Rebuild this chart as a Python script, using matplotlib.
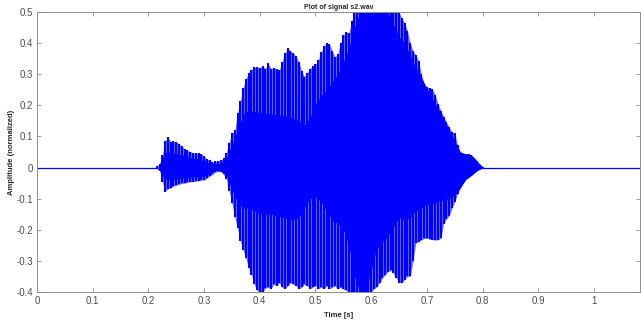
import matplotlib
matplotlib.use("Agg")
import matplotlib.pyplot as plt
import numpy as np

# signal length (s) and the silent stretches before/after the word
duration = 1.0826
silence_a = [0.0, 0.215]
silence_b = [0.800, duration]

# per-period peak amplitudes (one value every 5 ms, 0.215 .. 0.800 s)
t_peak = np.round(np.arange(0.215, 0.8001, 0.005), 3)
upper_peak = [
    0.006, 0.012, 0.040, 0.085, 0.099, 0.083, 0.084, 0.083, 0.076, 0.068,
    0.060, 0.055, 0.051, 0.048, 0.046, 0.046, 0.044, 0.036, 0.028, 0.024,
    0.018, 0.020, 0.021, 0.023, 0.030, 0.048, 0.080, 0.110, 0.121, 0.175,
    0.215, 0.255, 0.285, 0.305, 0.315, 0.322, 0.324, 0.320, 0.326, 0.318,
    0.335, 0.318, 0.320, 0.318, 0.312, 0.340, 0.367, 0.383, 0.375, 0.368,
    0.357, 0.340, 0.310, 0.292, 0.305, 0.318, 0.326, 0.332, 0.346, 0.370,
    0.390, 0.400, 0.398, 0.375, 0.355, 0.365, 0.400, 0.425, 0.437, 0.432,
    0.470, 0.500, 0.500, 0.500, 0.500, 0.500, 0.500, 0.500, 0.500, 0.500,
    0.500, 0.500, 0.500, 0.500, 0.500, 0.500, 0.500, 0.500, 0.480, 0.465,
    0.440, 0.400, 0.375, 0.362, 0.341, 0.300, 0.268, 0.258, 0.256, 0.252,
    0.232, 0.205, 0.182, 0.163, 0.145, 0.130, 0.115, 0.110, 0.072, 0.050,
    0.045, 0.044, 0.043, 0.040, 0.032, 0.022, 0.008, 0.003,
]
lower_peak = [
    -0.004, -0.010, -0.045, -0.077, -0.068, -0.066, -0.060, -0.057, -0.054, -0.051,
    -0.050, -0.048, -0.046, -0.045, -0.044, -0.043, -0.041, -0.040, -0.035, -0.028,
    -0.022, -0.015, -0.012, -0.013, -0.022, -0.038, -0.075, -0.115, -0.158, -0.195,
    -0.235, -0.265, -0.292, -0.322, -0.345, -0.375, -0.395, -0.400, -0.400, -0.388,
    -0.385, -0.390, -0.375, -0.380, -0.370, -0.385, -0.390, -0.380, -0.370, -0.375,
    -0.380, -0.390, -0.385, -0.375, -0.380, -0.390, -0.385, -0.380, -0.390, -0.385,
    -0.390, -0.380, -0.390, -0.385, -0.380, -0.390, -0.385, -0.390, -0.395, -0.400,
    -0.400, -0.400, -0.400, -0.400, -0.400, -0.400, -0.400, -0.400, -0.390, -0.383,
    -0.370, -0.355, -0.345, -0.335, -0.330, -0.340, -0.355, -0.370, -0.370, -0.360,
    -0.350, -0.350, -0.300, -0.243, -0.238, -0.233, -0.228, -0.228, -0.230, -0.232,
    -0.233, -0.232, -0.227, -0.180, -0.165, -0.155, -0.131, -0.110, -0.085, -0.065,
    -0.048, -0.038, -0.031, -0.025, -0.017, -0.010, -0.003, -0.002,
]

# solid part of the waveform (every 10 ms, 0.22 .. 0.80 s)
t_core = np.round(np.arange(0.22, 0.8001, 0.01), 2)
upper_core = [
    0.010, 0.050, 0.050, 0.045, 0.040, 0.035, 0.030, 0.028, 0.022, 0.015,
    0.012, 0.014, 0.030, 0.075, 0.120, 0.170, 0.185, 0.180, 0.178, 0.175,
    0.172, 0.170, 0.168, 0.165, 0.158, 0.150, 0.135, 0.160, 0.205, 0.230,
    0.250, 0.275, 0.300, 0.340, 0.385, 0.450, 0.500, 0.500, 0.500, 0.500,
    0.500, 0.500, 0.460, 0.420, 0.400, 0.360, 0.320, 0.290, 0.255, 0.220,
    0.190, 0.160, 0.120, 0.085, 0.050, 0.044, 0.040, 0.020, 0.003,
]
lower_core = [
    -0.008, -0.040, -0.040, -0.038, -0.035, -0.033, -0.030, -0.030, -0.028, -0.020,
    -0.010, -0.010, -0.025, -0.070, -0.110, -0.130, -0.130, -0.140, -0.150, -0.150,
    -0.150, -0.155, -0.160, -0.165, -0.168, -0.160, -0.130, -0.100, -0.095, -0.110,
    -0.140, -0.170, -0.180, -0.200, -0.250, -0.350, -0.400, -0.400, -0.330, -0.260,
    -0.240, -0.220, -0.190, -0.160, -0.170, -0.160, -0.140, -0.130, -0.120, -0.115,
    -0.110, -0.105, -0.100, -0.090, -0.065, -0.038, -0.025, -0.010, -0.002,
]

xticks = [0, 0.1, 0.2, 0.3, 0.4, 0.5, 0.6, 0.7, 0.8, 0.9, 1]
yticks = [-0.4, -0.3, -0.2, -0.1, 0, 0.1, 0.2, 0.3, 0.4, 0.5]

plt.rcParams['font.family'] = ['Liberation Sans', 'DejaVu Sans']
plt.rcParams['axes.unicode_minus'] = False

blue = '#0000ff'
light = '#6a6aff'   # samples between the pitch peaks
grey = '#8c8c8c'

fig = plt.figure(figsize=(6.41, 3.2), dpi=100)
ax = fig.add_axes([37 / 641, 28 / 320, 603 / 641, 280 / 320])

ax.plot(silence_a, [0, 0], color=blue, lw=0.9)
ax.plot(silence_b, [0, 0], color=blue, lw=0.9)
ax.fill_between(t_peak, lower_peak, upper_peak, color=light, lw=0)
ax.fill_between(t_core, lower_core, upper_core, color=blue, lw=0)
ax.vlines(t_peak, lower_peak, upper_peak, color=blue, lw=1.5)

ax.set_xlim(0, duration)
ax.set_ylim(-0.4, 0.5)
ax.set_xticks(xticks)
ax.set_yticks(yticks)
ax.set_xticklabels(['%g' % v for v in xticks])
ax.set_yticklabels(['%g' % v for v in yticks])
ax.tick_params(direction='in', length=3, width=0.6, colors=grey,
               labelcolor='#4d4d4d', labelsize=7, top=True, right=True, pad=3)
for s in ax.spines.values():
    s.set_color(grey)
    s.set_linewidth(0.7)

ax.set_title('Plot of signal s2.wav', fontsize=5, fontweight='bold', pad=2,
             color='#262626')
ax.set_xlabel('Time [s]', fontsize=5.5, fontweight='bold', labelpad=4,
              color='#262626')
ax.set_ylabel('Amplitude (normalized)', fontsize=5.5, fontweight='bold',
              labelpad=1, color='#262626')

fig.savefig('out.png', dpi=100)
